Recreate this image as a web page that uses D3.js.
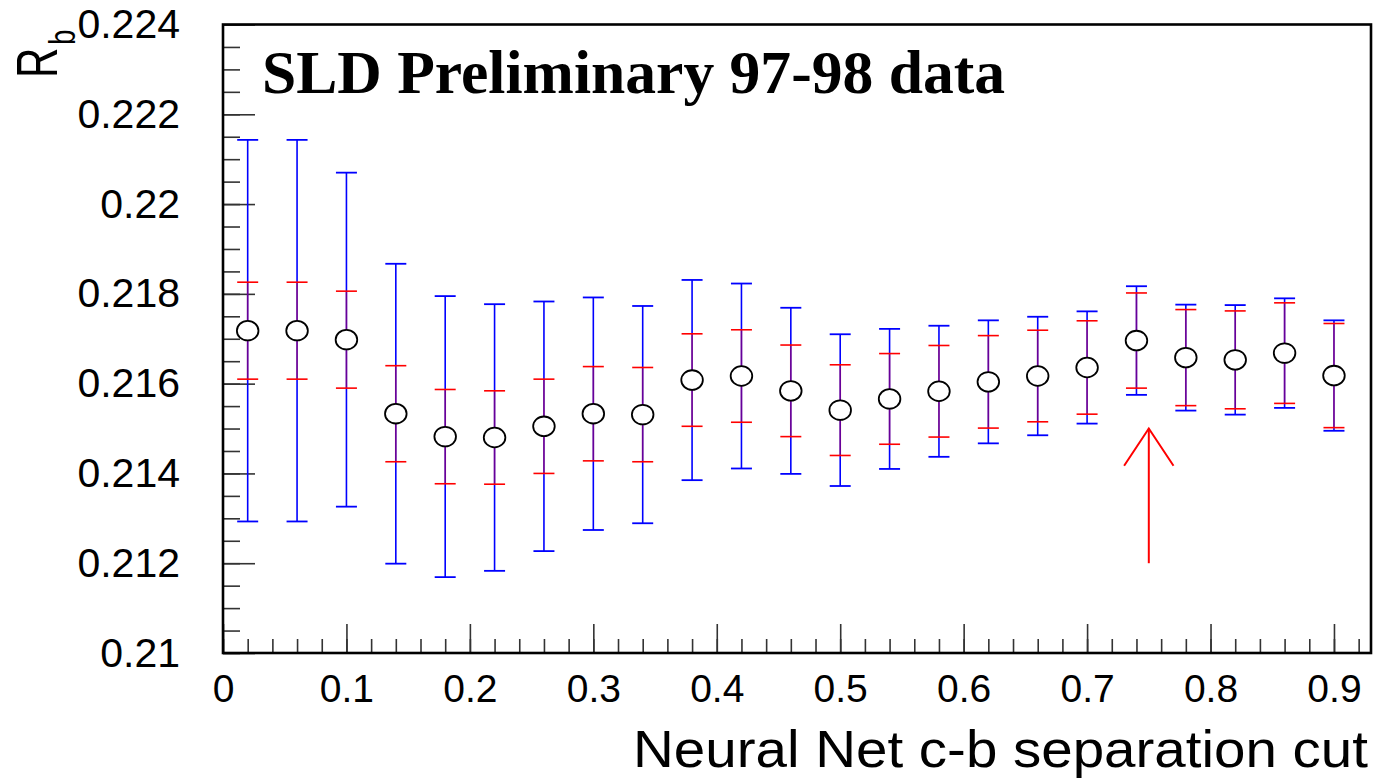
<!DOCTYPE html>
<html>
<head>
<meta charset="utf-8">
<script src="https://cdn.jsdelivr.net/npm/d3@7"></script>
<style>
  html, body { margin: 0; padding: 0; background: #fff; }
  svg { display: block; }
  text { font-family: "Liberation Sans", Arial, Helvetica, sans-serif; }
  text.serif { font-family: "Liberation Serif", "Times New Roman", serif; }
</style>
</head>
<body>
<svg id="chart" width="1378" height="779"></svg>
<script>
// ---- data ----
const cuts = [0.02,0.06,0.10,0.14,0.18,0.22,0.26,0.30,0.34,0.38,0.42,0.46,0.50,0.54,0.58,0.62,0.66,0.70,0.74,0.78,0.82,0.86,0.90];
const rb = [0.21718,0.21718,0.21698,0.21533,0.21482,0.21480,0.21505,0.21533,0.21531,0.21608,0.21617,0.21584,0.21541,0.21566,0.21583,0.21604,0.21617,0.21636,0.21696,0.21658,0.21653,0.21668,0.21618];
const errInner = [0.00108,0.00108,0.00108,0.00107,0.00105,0.00104,0.00105,0.00105,0.00105,0.00103,0.00103,0.00102,0.00101,0.00101,0.00102,0.00103,0.00102,0.00104,0.00106,0.00107,0.00109,0.00112,0.00116];
const errTotal = [0.00425,0.00425,0.00372,0.00334,0.00313,0.00297,0.00278,0.00259,0.00242,0.00223,0.00206,0.00185,0.00169,0.00156,0.00146,0.00137,0.00132,0.00125,0.00121,0.00118,0.00122,0.00122,0.00123];
const xTickValues = [0,0.1,0.2,0.3,0.4,0.5,0.6,0.7,0.8,0.9];
const xTickLabels = ["0","0.1","0.2","0.3","0.4","0.5","0.6","0.7","0.8","0.9"];
const yTickValues = [0.210,0.212,0.214,0.216,0.218,0.220,0.222,0.224];
const yTickLabels = ["0.21","0.212","0.214","0.216","0.218","0.22","0.222","0.224"];
const arrowAt = 0.75, arrowTip = 0.215, arrowBase = 0.212, arrowHeadY = 0.21417, arrowHeadHalf = 0.02;
const titleText = "SLD Preliminary 97-98 data";
const xTitle = "Neural Net c-b separation cut";

// ---- layout ----
const svg = d3.select("#chart");
const L = 223, R = 1371, T = 24.5, B = 653;
const x = d3.scaleLinear().domain([0, 0.93]).range([L, R]);
const y = d3.scaleLinear().domain([0.21, 0.224]).range([B, T]);

const data = cuts.map((c, i) => ({ c, v: rb[i], ei: errInner[i], et: errTotal[i] }));

// minor ticks
const xMinor = d3.range(0, 0.9201, 0.02);
const yMinor = d3.range(0.21, 0.22401, 0.0005);

const gxMinor = svg.append("g").attr("transform", `translate(0,${B})`)
  .call(d3.axisBottom(x).tickValues(xMinor).tickFormat("").tickSizeInner(-14).tickSizeOuter(0));
const gx = svg.append("g").attr("transform", `translate(0,${B})`)
  .call(d3.axisBottom(x).tickValues(xTickValues).tickFormat((d, i) => xTickLabels[i]).tickSizeInner(-29).tickSizeOuter(0).tickPadding(21));
const gyMinor = svg.append("g").attr("transform", `translate(${L},0)`)
  .call(d3.axisLeft(y).tickValues(yMinor).tickFormat("").tickSizeInner(-17).tickSizeOuter(0));
const gy = svg.append("g").attr("transform", `translate(${L},0)`)
  .call(d3.axisLeft(y).tickValues(yTickValues).tickFormat((d, i) => yTickLabels[i]).tickSizeInner(-32).tickSizeOuter(0).tickPadding(43));

[gxMinor, gx, gyMinor, gy].forEach(g => {
  g.select(".domain").remove();
  g.selectAll(".tick line").attr("stroke", "#333").attr("stroke-width", 1.6);
});
gx.selectAll(".tick text").attr("font-size", 39).attr("fill", "#000");
gy.selectAll(".tick text").attr("font-size", 41).attr("fill", "#000");

// frame
svg.append("rect").attr("x", L).attr("y", T).attr("width", R - L).attr("height", B - T)
  .attr("fill", "none").attr("stroke", "#000").attr("stroke-width", 2.6);

// error bars
const cap = 10.5;
const g = svg.append("g");
// total (blue)
g.selectAll("line.tot").data(data).join("line").attr("class", "tot")
  .attr("x1", d => x(d.c)).attr("x2", d => x(d.c))
  .attr("y1", d => y(d.v + d.et)).attr("y2", d => y(d.v - d.et))
  .attr("stroke", "#0000ff").attr("stroke-width", 1.6);
["hi", "lo"].forEach(s => {
  g.selectAll("line.totcap" + s).data(data).join("line").attr("class", "totcap" + s)
    .attr("x1", d => x(d.c) - cap).attr("x2", d => x(d.c) + cap)
    .attr("y1", d => y(s === "hi" ? d.v + d.et : d.v - d.et))
    .attr("y2", d => y(s === "hi" ? d.v + d.et : d.v - d.et))
    .attr("stroke", "#0000ff").attr("stroke-width", 1.8);
});
// inner (red)
g.selectAll("line.inn").data(data).join("line").attr("class", "inn")
  .attr("x1", d => x(d.c)).attr("x2", d => x(d.c))
  .attr("y1", d => y(d.v + d.ei)).attr("y2", d => y(d.v - d.ei))
  .attr("stroke", "#ff0000").attr("stroke-opacity", 0.4).attr("stroke-width", 1.8);
["hi", "lo"].forEach(s => {
  g.selectAll("line.inncap" + s).data(data).join("line").attr("class", "inncap" + s)
    .attr("x1", d => x(d.c) - cap).attr("x2", d => x(d.c) + cap)
    .attr("y1", d => y(s === "hi" ? d.v + d.ei : d.v - d.ei))
    .attr("y2", d => y(s === "hi" ? d.v + d.ei : d.v - d.ei))
    .attr("stroke", "#ff0000").attr("stroke-width", 1.6);
});
// markers
g.selectAll("ellipse").data(data).join("ellipse")
  .attr("cx", d => x(d.c)).attr("cy", d => y(d.v))
  .attr("rx", 10.8).attr("ry", 9.8)
  .attr("fill", "#fff").attr("stroke", "#000").attr("stroke-width", 1.8);

// arrow
const ag = svg.append("g").attr("stroke", "#ff0000").attr("stroke-width", 2).attr("fill", "none");
ag.append("line").attr("x1", x(arrowAt)).attr("x2", x(arrowAt)).attr("y1", y(arrowBase)).attr("y2", y(arrowTip));
ag.append("polyline").attr("points", [
  [x(arrowAt - arrowHeadHalf), y(arrowHeadY)],
  [x(arrowAt), y(arrowTip)],
  [x(arrowAt + arrowHeadHalf), y(arrowHeadY)]
].map(p => p.join(",")).join(" "));

// title
svg.append("text").attr("class", "serif").attr("x", 262).attr("y", 93)
  .style("font-weight", "bold").attr("font-size", 61)
  .attr("textLength", 743).attr("lengthAdjust", "spacingAndGlyphs")
  .attr("fill", "#000").text(titleText);

// x title
svg.append("text").attr("x", 1368).attr("y", 767).attr("text-anchor", "end")
  .attr("font-size", 52).attr("fill", "#000")
  .attr("textLength", 735).attr("lengthAdjust", "spacingAndGlyphs")
  .text(xTitle);

// y title R_b
const yt = svg.append("text")
  .attr("transform", "translate(57,78) rotate(-90) scale(1,1.37)")
  .attr("font-size", 42).attr("fill", "#000");
yt.append("tspan").text("R");
yt.append("tspan").attr("font-size", 27).attr("dx", 3).attr("dy", 13).text("b");
</script>
</body>
</html>
